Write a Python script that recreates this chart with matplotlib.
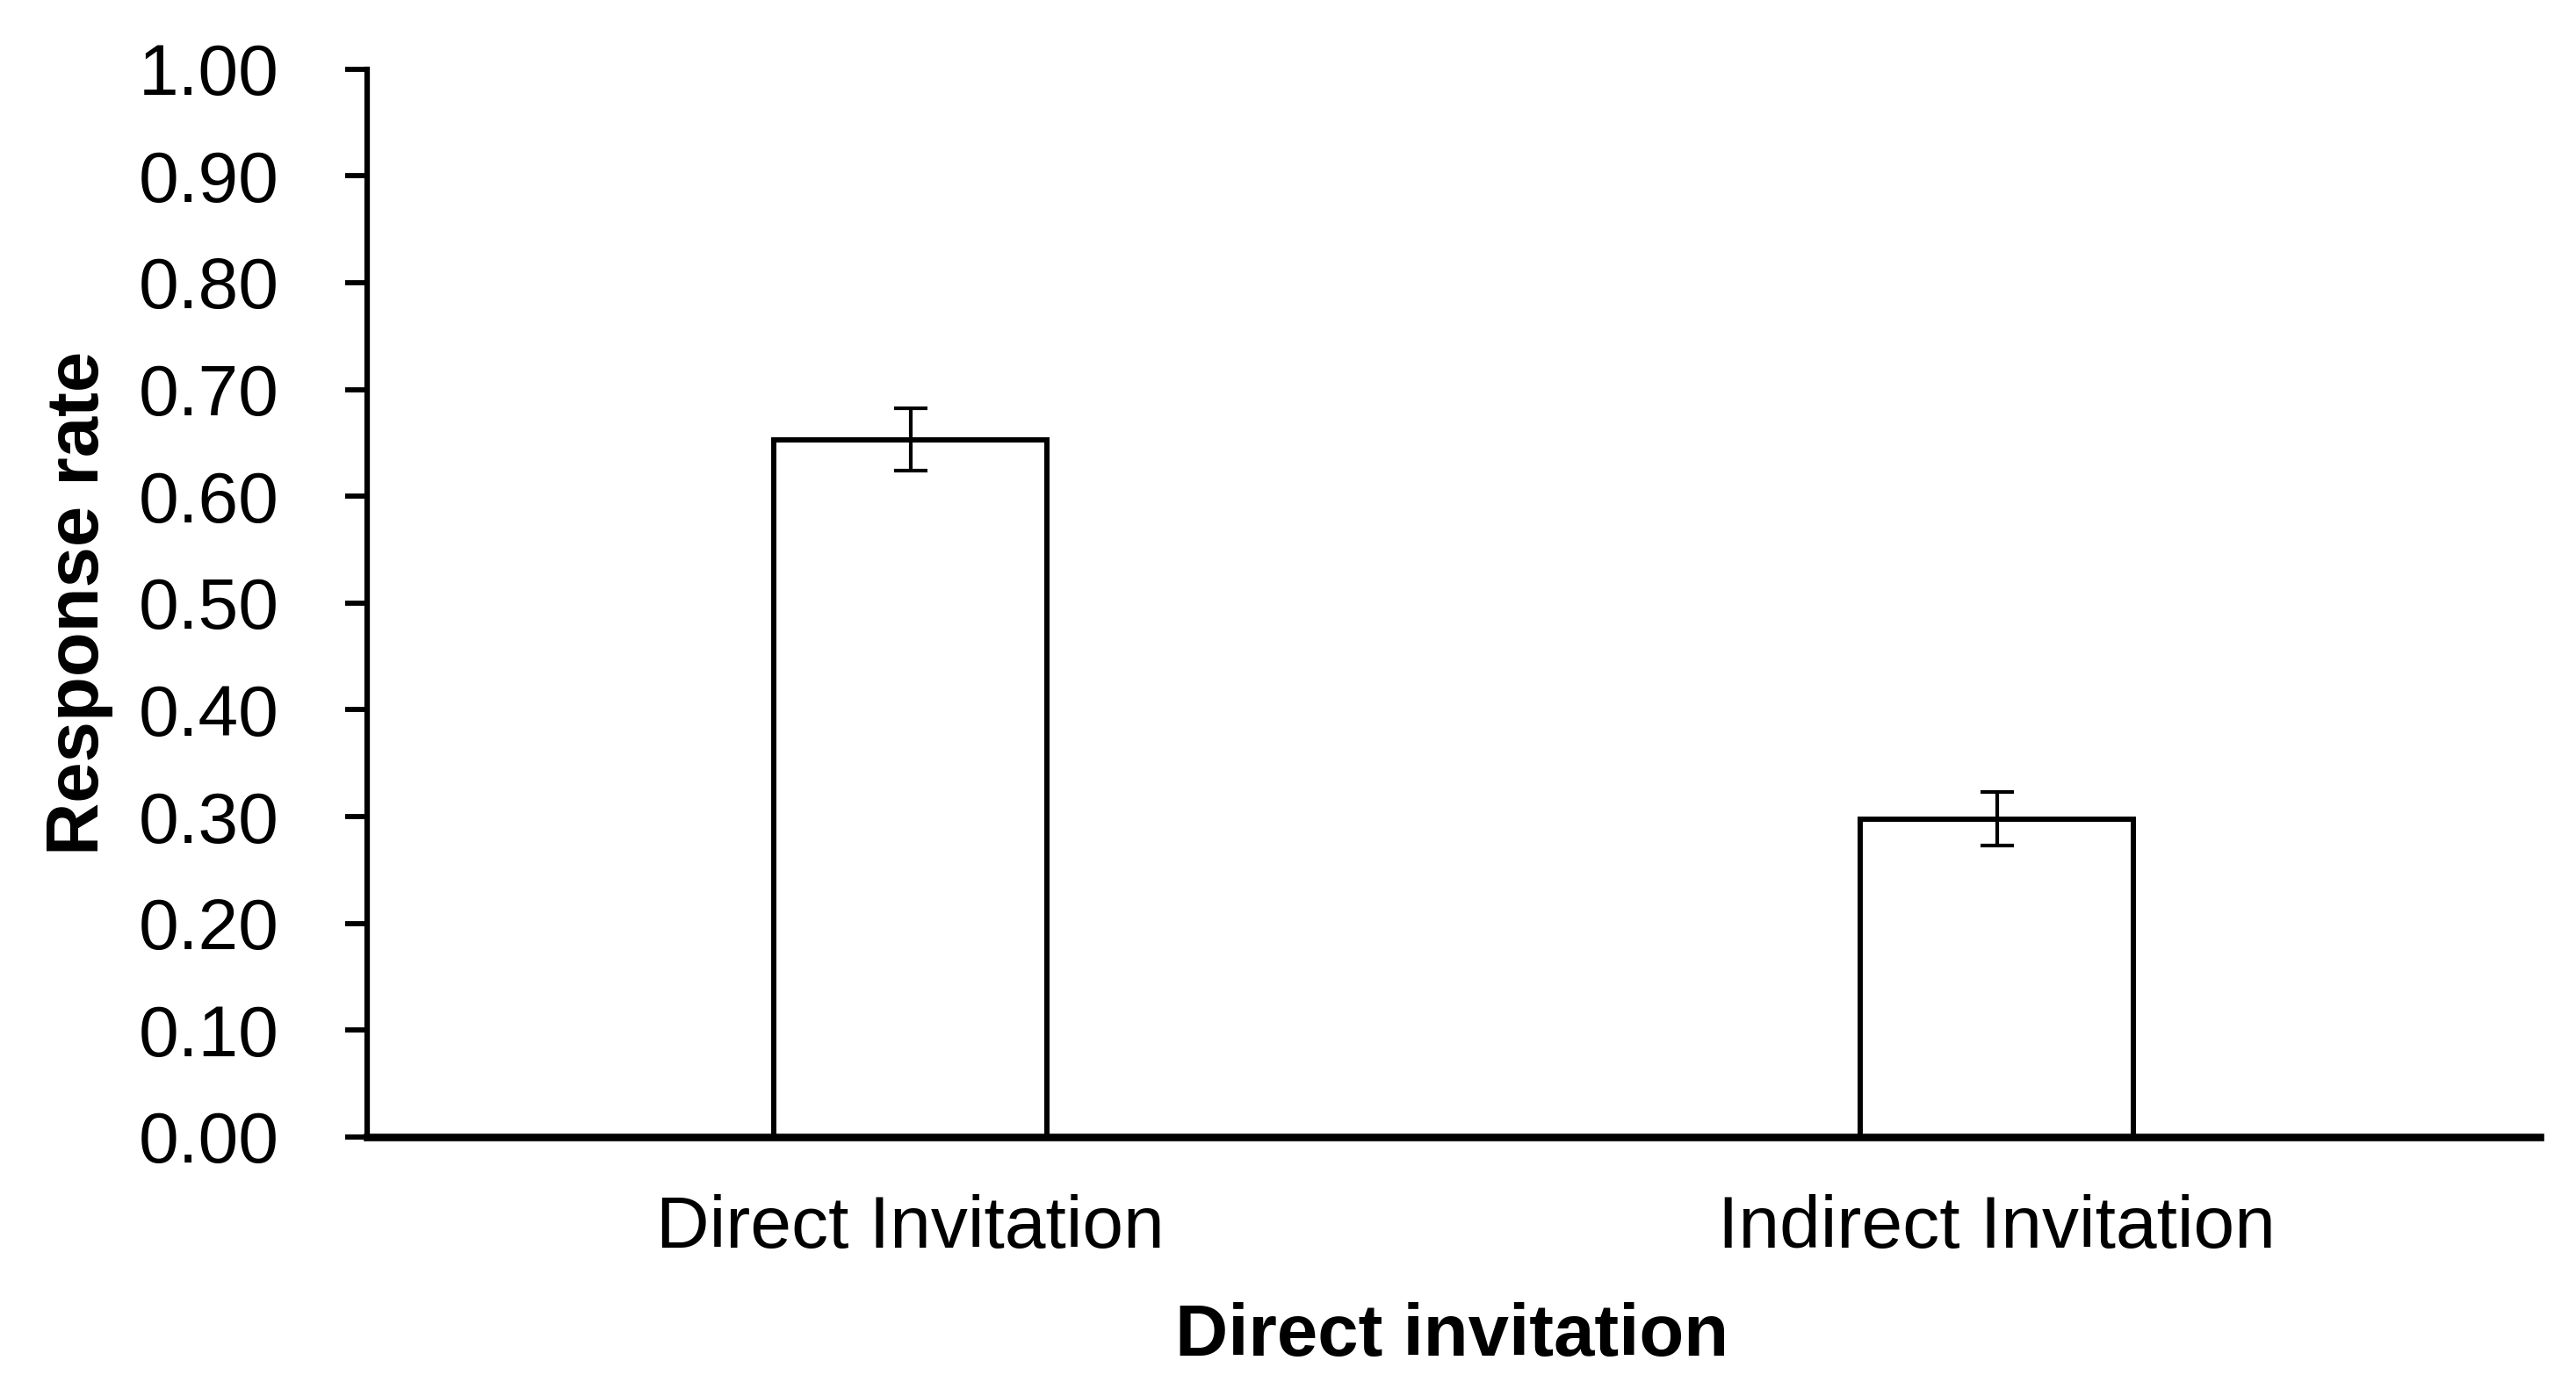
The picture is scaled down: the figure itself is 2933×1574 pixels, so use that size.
import matplotlib
matplotlib.use("Agg")
import matplotlib.pyplot as plt
import numpy as np

categories = ["Direct Invitation", "Indirect Invitation"]
rates = [0.653, 0.298]
errors = [0.029, 0.025]
yticks = [0.0, 0.1, 0.2, 0.3, 0.4, 0.5, 0.6, 0.7, 0.8, 0.9, 1.0]
xlabel = "Direct invitation"
ylabel = "Response rate"

plt.rcParams['font.family'] = ['Liberation Sans', 'DejaVu Sans']

fig = plt.figure(figsize=(29.33, 15.74), dpi=100)
ax = fig.add_axes([0.14252, 0.17726, 0.8435, 0.77274])

x = np.arange(len(categories))
ax.bar(x, rates, width=0.252, color='white', edgecolor='black', linewidth=4.3, zorder=2)
ax.errorbar(x, rates, yerr=errors, fmt='none', ecolor='black', elinewidth=3,
            capsize=14, capthick=3, zorder=3)

ax.set_xlim(-0.5, 1.5)
ax.set_ylim(0, 1.0)
ax.set_yticks(yticks)
ax.set_yticklabels([f"{v:.2f}" for v in yticks])
ax.set_xticks(x)
ax.set_xticklabels(categories)

for s in ['top', 'right']:
    ax.spines[s].set_visible(False)
ax.spines['left'].set_linewidth(4.5)
ax.spines['bottom'].set_linewidth(6.2)
ax.spines['bottom'].set_zorder(4)

ax.tick_params(axis='y', length=18, width=4.2, labelsize=59, pad=54)
ax.tick_params(axis='x', length=0, labelsize=60.5, pad=47)

ax.set_xlabel(xlabel, fontsize=60, fontweight='bold', va='baseline')
ax.xaxis.set_label_coords(0.4992, -0.2047)
ax.set_ylabel(ylabel, fontsize=60, fontweight='bold', va='baseline')
ax.yaxis.set_label_coords(-0.1237, 0.5)

fig.savefig("out.png", dpi=100, facecolor='white')
